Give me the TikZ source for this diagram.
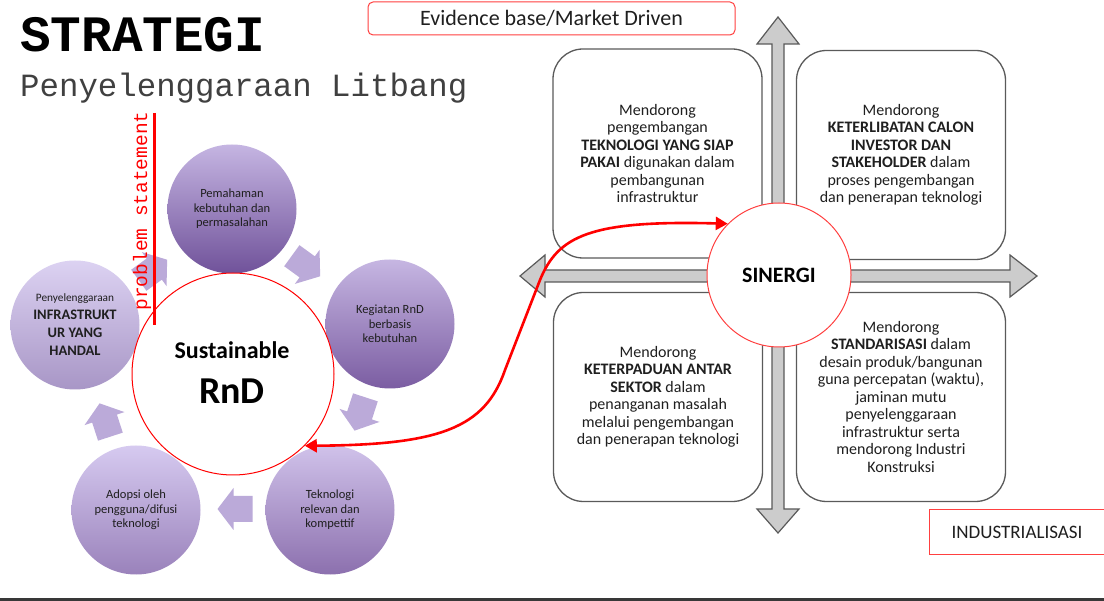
\documentclass[tikz,border=0pt]{standalone}
\usepackage{fontspec}
\setmainfont{Carlito}
\newfontfamily\monof{Liberation Mono}
\usetikzlibrary{arrows.meta}
\definecolor{txt}{HTML}{1F1F1F}
\definecolor{boxline}{HTML}{5A5A5A}
\definecolor{redl}{HTML}{FF4040}
\definecolor{arrfill}{HTML}{BBAAD9}
\definecolor{pAt}{HTML}{C5B5E2}\definecolor{pAb}{HTML}{70529A}
\definecolor{pBt}{HTML}{C6B6E2}\definecolor{pBb}{HTML}{7B5DA2}
\definecolor{pCt}{HTML}{D0C2EA}\definecolor{pCb}{HTML}{8C70AE}
\definecolor{pDt}{HTML}{D6CAF0}\definecolor{pDb}{HTML}{9A82BB}
\definecolor{pEt}{HTML}{DCD2F2}\definecolor{pEb}{HTML}{A896C6}
\newcommand{\bigbold}[1]{{\bfseries\fontsize{14.5}{16}\selectfont #1}}
\begin{document}
\begin{tikzpicture}[x=1pt,y=-1pt,
  pcirc/.style={circle, minimum size=129pt, inner sep=0pt, align=center, text=txt,
    font=\fontsize{12.5}{14.5}\selectfont},
  quad/.style={draw=boxline, line width=1.3pt, rounded corners=30pt, fill=white,
    minimum width=209pt, minimum height=209pt, align=center, inner sep=0pt, text=txt,
    font=\fontsize{16}{17.5}\selectfont},
  redbox/.style={draw=redl, line width=1pt, fill=white, text=txt, inner sep=0pt},
  fourway/.style={draw=boxline, line width=1.2pt, fill=black!20, line join=miter},
  redcurve/.style={draw=red, line width=2.6pt},
  cyc/.pic={\fill[arrfill] (-17.5,-13) -- (1.5,-13) -- (1.5,-21) -- (17.5,0) -- (1.5,21) -- (1.5,13) -- (-17.5,13) -- cycle;}
]
\useasboundingbox[fill=white] (0,0) rectangle (1104,601);

% titles
\node[anchor=base west, inner sep=0pt] (title) at (20,52) {\monof\bfseries\fontsize{51}{51}\selectfont STRATEGI};
\node[anchor=base west, inner sep=0pt, text=black!75] (subtitle) at (20,97) {\monof\fontsize{32.4}{32.4}\selectfont Penyelenggaraan Litbang};

% purple cycle circles
\node[pcirc, top color=pAt, bottom color=pAb] (c1) at (232,209) {Pemahaman\\kebutuhan dan\\permasalahan};
\node[pcirc, top color=pBt, bottom color=pBb] (c2) at (390,324) {Kegiatan RnD\\berbasis\\kebutuhan};
\node[pcirc, top color=pCt, bottom color=pCb] (c3) at (330,510) {Teknologi\\relevan dan\\kompettif};
\node[pcirc, top color=pDt, bottom color=pDb] (c4) at (136,510) {Adopsi oleh\\pengguna/difusi\\teknologi};
\node[pcirc, top color=pEt, bottom color=pEb, font=\fontsize{11.3}{18}\selectfont] (c5) at (75,325) {Penyelenggaraan\\\bigbold{INFRASTRUKT}\\\bigbold{UR YANG}\\\bigbold{HANDAL}};

% cycle arrows
\pic[rotate=-36] at (306,266) {cyc};
\pic[rotate=-108] at (360,414) {cyc};
\pic[rotate=180] at (235,509) {cyc};
\pic[rotate=108] at (105,420) {cyc};
\pic[rotate=36] at (153,270) {cyc};

% central RnD circle
\node[circle, draw=red, line width=1pt, fill=white, minimum size=202pt, inner sep=0pt] (rnd) at (233,374) {};
\node[anchor=base, inner sep=0pt] (rndt1) at (232,359) {\bfseries\fontsize{24}{24}\selectfont Sustainable};
\node[anchor=base, inner sep=0pt] (rndt2) at (232,404) {\bfseries\fontsize{38}{38}\selectfont RnD};

% problem statement
\draw[red, line width=3pt] (154,113) coordinate (ps1) -- (154,325) coordinate (ps2);
\node[rotate=90, text=red, inner sep=0pt] (ps) at (142,211) {\monof\fontsize{19.5}{20}\selectfont problem statement};

% top label
\node[redbox, rounded corners=5pt, minimum width=367pt, minimum height=33pt] (evid) at (551.5,18.5) {\fontsize{22}{22}\selectfont Evidence base/Market Driven};

% quadrant boxes
\node[quad] (q1) at (657.5,153.5) {Mendorong\\pengembangan\\\textbf{TEKNOLOGI YANG SIAP}\\\textbf{PAKAI} digunakan dalam\\pembangunan\\infrastruktur};
\node[quad] (q2) at (901,155) {Mendorong\\\textbf{KETERLIBATAN CALON}\\\textbf{INVESTOR DAN}\\\textbf{STAKEHOLDER} dalam\\proses pengembangan\\dan penerapan teknologi};
\node[quad] (q3) at (658,397) {Mendorong\\\textbf{KETERPADUAN ANTAR}\\\textbf{SEKTOR} dalam\\penanganan masalah\\melalui pengembangan\\dan penerapan teknologi};
\node[quad] (q4) at (901,397) {Mendorong\\\textbf{STANDARISASI} dalam\\desain produk/bangunan\\guna percepatan (waktu),\\jaminan mutu\\penyelenggaraan\\infrastruktur serta\\mendorong Industri\\Konstruksi};

% four-way arrow
\draw[fourway] (778,17) -- (799,44) -- (784,44) -- (784,270) -- (1010,270) -- (1010,255) -- (1037,276)
  -- (1010,297) -- (1010,282) -- (784,282) -- (784,509) -- (799,509) -- (778,533) -- (757,509)
  -- (772,509) -- (772,282) -- (545,282) -- (545,297) -- (520,276) -- (545,255) -- (545,270)
  -- (772,270) -- (772,44) -- (757,44) -- cycle;

% SINERGI
\node[circle, draw=redl, line width=1pt, fill=white, minimum size=144pt, inner sep=0pt] (sinergi) at (779,275) {\bfseries\fontsize{22}{22}\selectfont SINERGI};

% INDUSTRIALISASI
\node[redbox, minimum width=181pt, minimum height=45pt, anchor=west] (indus) at (929,532.5) {\fontsize{19}{19}\selectfont\hspace*{-6pt}INDUSTRIALISASI};

% red curved double arrow
\draw[redcurve, {Triangle[length=12pt,width=13pt]}-{Triangle[length=12pt,width=13pt]}]
  (rnd.-45) .. controls (440,445) and (485,428) .. (505,370) -- (540,280)
  .. controls (558,236) and (590,220) .. (sinergi.135);

% bottom rule
\fill[black!78] (0,598) rectangle (1104,601);
\end{tikzpicture}
\end{document}
